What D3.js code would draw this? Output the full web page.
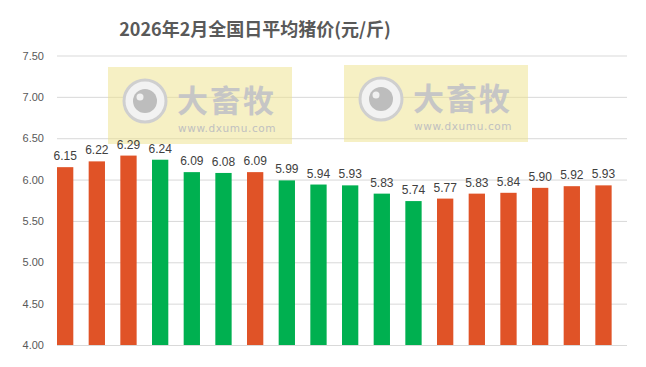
<!DOCTYPE html>
<html>
<head>
<meta charset="utf-8">
<script src="https://cdn.jsdelivr.net/npm/d3@7"></script>
<style>
  body { margin: 0; background: #fff; }
  svg { display: block; font-family: "Noto Sans CJK SC", "Liberation Sans", sans-serif; }
</style>
</head>
<body>
<div id="chart"></div>
<script>
// 数据
const days = ["2月1日", "2月2日", "2月3日", "2月4日", "2月5日", "2月6日", "2月7日", "2月8日", "2月9日",
  "2月10日", "2月11日", "2月12日", "2月13日", "2月14日", "2月15日", "2月16日", "2月17日", "2月18日"];
const prices = [6.15, 6.22, 6.29, 6.24, 6.09, 6.08, 6.09, 5.99, 5.94, 5.93, 5.83, 5.74, 5.77, 5.83, 5.84, 5.90, 5.92, 5.93];
const yTicks = [4.0, 4.5, 5.0, 5.5, 6.0, 6.5, 7.0, 7.5];
const title = "2026年2月全国日平均猪价(元/斤)";

const width = 646, height = 367;
const margin = { top: 55.5, right: 19, bottom: 22, left: 57 };
const UP = "#E05327", DOWN = "#00B050";

const svg = d3.select("#chart").append("svg")
  .attr("width", width)
  .attr("height", height);

const plotW = width - margin.left - margin.right;
const plotH = height - margin.top - margin.bottom;

const y = d3.scaleLinear().domain([4, 7.5]).range([margin.top + plotH, margin.top]);
const x = d3.scaleBand()
  .domain(days)
  .range([margin.left, margin.left + plotW])
  .paddingInner(0.485)
  .paddingOuter(0.2425)
  .align(0);

// 网格线 + 纵轴
const yAxis = svg.append("g")
  .attr("transform", `translate(${margin.left},0)`)
  .call(d3.axisLeft(y).tickValues(yTicks).tickFormat(d3.format(".2f")).tickSize(-plotW).tickPadding(13));
yAxis.select(".domain").remove();
yAxis.selectAll(".tick line").attr("stroke", "#d9d9d9").attr("stroke-width", 1);
yAxis.selectAll(".tick text")
  .attr("fill", "#595959")
  .attr("font-size", 11)
  .attr("font-family", "'Liberation Sans', sans-serif");

// 水印
function watermark(x0, y0) {
  const g = svg.append("g").attr("transform", `translate(${x0},${y0})`);
  g.append("rect")
    .attr("width", 184).attr("height", 77)
    .attr("fill", "#EDE28A").attr("opacity", 0.5);
  g.append("circle").attr("cx", 37).attr("cy", 34).attr("r", 21)
    .attr("fill", "#f2f2f2").attr("stroke", "#cfcfcf").attr("stroke-width", 3);
  g.append("circle").attr("cx", 37).attr("cy", 34).attr("r", 12).attr("fill", "#bdbdbd");
  g.append("circle").attr("cx", 32).attr("cy", 30).attr("r", 3.5).attr("fill", "#f0f0f0");
  g.append("text").attr("x", 69).attr("y", 45)
    .attr("font-size", 31).attr("font-weight", "bold").attr("fill", "#c6c6c6")
    .attr("letter-spacing", 2)
    .text("大畜牧");
  g.append("text").attr("x", 70).attr("y", 65)
    .attr("font-size", 10.5).attr("fill", "#c0c0c0")
    .attr("font-family", "'DejaVu Sans', sans-serif")
    .attr("letter-spacing", 0.6)
    .text("www.dxumu.com");
}
watermark(108, 67);
watermark(344, 65);

// 柱
svg.selectAll("rect.bar")
  .data(prices)
  .enter()
  .append("rect")
  .attr("class", "bar")
  .attr("x", (d, i) => x(days[i]))
  .attr("y", d => y(d))
  .attr("width", x.bandwidth())
  .attr("height", d => y(4) - y(d))
  .attr("fill", (d, i) => (i === 0 || d >= prices[i - 1]) ? UP : DOWN);

// 数值
svg.selectAll("text.value")
  .data(prices)
  .enter()
  .append("text")
  .attr("class", "value")
  .attr("x", (d, i) => x(days[i]) + x.bandwidth() / 2)
  .attr("y", d => y(d) - 7)
  .attr("text-anchor", "middle")
  .attr("fill", "#404040")
  .attr("font-size", 12)
  .attr("font-family", "'Liberation Sans', sans-serif")
  .text(d => d.toFixed(2));

// 标题
svg.append("text")
  .attr("x", 255)
  .attr("y", 36)
  .attr("text-anchor", "middle")
  .attr("fill", "#595959")
  .attr("font-size", 18)
  .attr("font-weight", "bold")
  .text(title);
</script>
</body>
</html>
